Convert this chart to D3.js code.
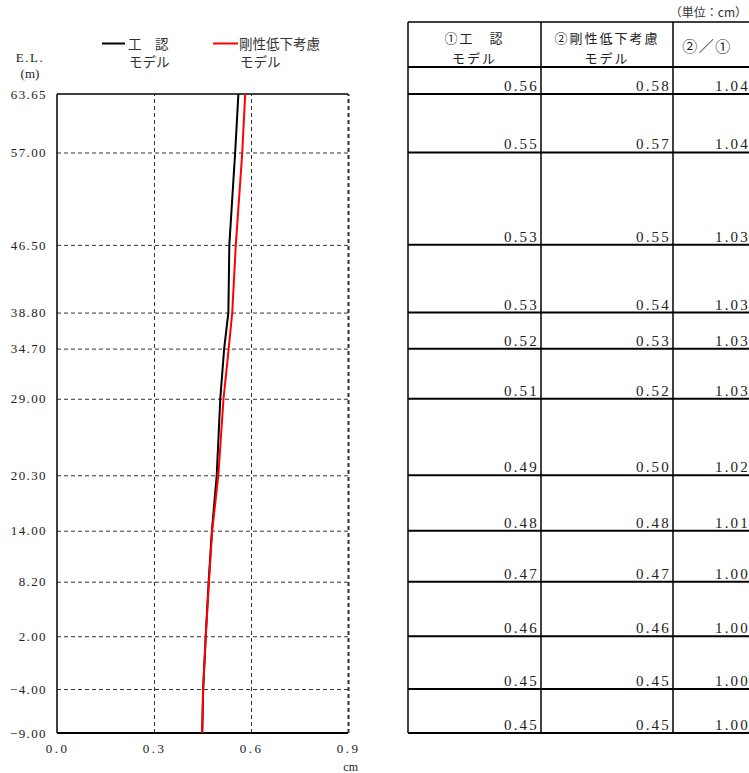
<!DOCTYPE html>
<html><head><meta charset="utf-8">
<script src="https://cdn.jsdelivr.net/npm/d3@7"></script>
<style>
html,body{margin:0;padding:0;background:#fff;}
svg{display:block;}
.num{font-family:"Liberation Serif","DejaVu Serif",serif;}
.jp{font-family:"Noto Sans CJK JP","Noto Sans CJK SC",sans-serif;}
</style></head>
<body>
<svg id="c" width="749" height="773"></svg>
<script>
// ---- data ----
const elevations = [63.65, 57.00, 46.50, 38.80, 34.70, 29.00, 20.30, 14.00, 8.20, 2.00, -4.00, -9.00];
const kouninLine = [0.561, 0.551, 0.533, 0.530, 0.517, 0.505, 0.494, 0.479, 0.469, 0.460, 0.452, 0.449];
const gouseiLine = [0.582, 0.573, 0.553, 0.542, 0.531, 0.515, 0.499, 0.480, 0.470, 0.460, 0.452, 0.449];
const tableKounin = [0.56, 0.55, 0.53, 0.53, 0.52, 0.51, 0.49, 0.48, 0.47, 0.46, 0.45, 0.45];
const tableGousei = [0.58, 0.57, 0.55, 0.54, 0.53, 0.52, 0.50, 0.48, 0.47, 0.46, 0.45, 0.45];
const tableRatio  = [1.04, 1.04, 1.03, 1.03, 1.03, 1.03, 1.02, 1.01, 1.00, 1.00, 1.00, 1.00];
const xTicks = [0.0, 0.3, 0.6, 0.9];
const seriesNames = [["工　認", "モデル"], ["剛性低下考慮", "モデル"]];
const headers = [["①工　認", "モデル"], ["②剛性低下考慮", "モデル"], ["②／①"]];
const unitLabel = "（単位：cm）";

const svg = d3.select("#c");
const L = 57, R = 348, T = 94, B = 733;
const x = d3.scaleLinear().domain([0, 0.9]).range([L, R]);
const y = d3.scaleLinear().domain([-9, 63.65]).range([B, T]);

// grid - horizontal
const gy = svg.append("g").attr("transform", `translate(${L},0)`)
  .call(d3.axisLeft(y).tickValues(elevations.filter(e => e !== 63.65 && e !== -9)).tickSize(-(R - L)).tickFormat(""));
gy.select(".domain").remove();
gy.selectAll("line").attr("stroke", "#333").attr("stroke-dasharray", "4,3").attr("stroke-width", 1);

// grid - vertical
const gx = svg.append("g").attr("transform", `translate(0,${B})`)
  .call(d3.axisBottom(x).tickValues([0.3, 0.6, 0.9]).tickSize(-(B - T)).tickFormat(""));
gx.select(".domain").remove();
gx.selectAll("line").attr("stroke", "#333").attr("stroke-dasharray", "4,3")
  .attr("stroke-width", d => d === 0.9 ? 2 : 1);

// frame
svg.append("line").attr("x1", x(0)).attr("x2", x(0)).attr("y1", y(63.65)).attr("y2", y(-9)).attr("stroke", "#000").attr("stroke-width", 1.5);
svg.append("line").attr("x1", x(0)).attr("x2", x(0.9)).attr("y1", y(63.65)).attr("y2", y(63.65)).attr("stroke", "#000").attr("stroke-width", 1.5);
svg.append("line").attr("x1", x(0)).attr("x2", x(0.9)).attr("y1", y(-9)).attr("y2", y(-9)).attr("stroke", "#000").attr("stroke-width", 2);

// y tick labels
const ya = svg.append("g").attr("transform", `translate(${L},0)`)
  .call(d3.axisLeft(y).tickValues(elevations).tickSize(0).tickPadding(10).tickFormat(d3.format(".2f")));
ya.select(".domain").remove();
ya.selectAll("text").attr("class", "num").attr("font-size", 13).attr("letter-spacing", 1.4).attr("fill", "#222");

// x tick labels
const xa = svg.append("g").attr("transform", `translate(0,${B})`)
  .call(d3.axisBottom(x).tickValues(xTicks).tickSize(0).tickPadding(11).tickFormat(d3.format(".1f")));
xa.select(".domain").remove();
xa.selectAll("text").attr("class", "num").attr("font-size", 13).attr("letter-spacing", 2.5).attr("fill", "#222");

svg.append("text").attr("class", "num").attr("x", 358).attr("y", 771).attr("text-anchor", "end")
  .attr("font-size", 12).attr("fill", "#222").text("cm");
svg.append("text").attr("class", "num").attr("x", 30).attr("y", 62).attr("text-anchor", "middle")
  .attr("font-size", 13).attr("letter-spacing", 1.5).attr("fill", "#222").text("E.L.");
svg.append("text").attr("class", "num").attr("x", 30).attr("y", 78).attr("text-anchor", "middle")
  .attr("font-size", 13).attr("fill", "#222").text("(m)");

// data lines
const line = d3.line().x(d => x(d[0])).y(d => y(d[1]));
svg.append("path").datum(kouninLine.map((v, i) => [v, elevations[i]])).attr("d", line)
  .attr("fill", "none").attr("stroke", "#000").attr("stroke-width", 2);
svg.append("path").datum(gouseiLine.map((v, i) => [v, elevations[i]])).attr("d", line)
  .attr("fill", "none").attr("stroke", "#ff0000").attr("stroke-width", 2);

// legend
const legendItems = [{c: "#000", x1: 102, x2: 125, tx: 128, names: seriesNames[0]},
                     {c: "#ff0000", x1: 213, x2: 238, tx: 239, names: seriesNames[1]}];
legendItems.forEach(it => {
  svg.append("line").attr("x1", it.x1).attr("x2", it.x2).attr("y1", 43.5).attr("y2", 43.5)
    .attr("stroke", it.c).attr("stroke-width", 2);
  svg.append("text").attr("class", "jp").attr("x", it.tx).attr("y", 48.5).attr("font-size", 13.5)
    .attr("fill", "#333").text(it.names[0]);
  svg.append("text").attr("class", "jp").attr("x", it.tx + 1).attr("y", 67).attr("font-size", 13.5)
    .attr("fill", "#333").text(it.names[1]);
});

// ---- table ----
const colX = [408, 541, 673, 752];
const hTop = 22, hBot = 67;
const tg = svg.append("g");
svg.append("text").attr("class", "jp").attr("x", 747).attr("y", 17).attr("text-anchor", "end")
  .attr("font-size", 12).attr("fill", "#333").text(unitLabel);

// header text
headers.forEach((h, i) => {
  const cx = i < 2 ? (colX[i] + colX[i + 1]) / 2 : 707;
  if (h.length === 2) {
    tg.append("text").attr("class", "jp").attr("x", cx).attr("y", 42.5).attr("text-anchor", "middle")
      .attr("font-size", 13).attr("letter-spacing", 2).attr("fill", "#222").text(h[0]);
    tg.append("text").attr("class", "jp").attr("x", cx).attr("y", 62.5).attr("text-anchor", "middle")
      .attr("font-size", 13).attr("letter-spacing", 2).attr("fill", "#222").text(h[1]);
  } else {
    tg.append("text").attr("class", "jp").attr("x", cx).attr("y", 52).attr("text-anchor", "middle")
      .attr("font-size", 15).attr("letter-spacing", 1.5).attr("fill", "#222").text(h[0]);
  }
});

// rows
const rowBottoms = elevations.map(e => y(e));
tableKounin.forEach((v, i) => {
  const yb = rowBottoms[i];
  [[tableKounin[i], colX[1]], [tableGousei[i], colX[2]], [tableRatio[i], colX[3]]].forEach(([val, cr]) => {
    tg.append("text").attr("class", "num").attr("x", cr - 2).attr("y", yb - 3).attr("text-anchor", "end")
      .attr("font-size", 15).attr("letter-spacing", 2.2).attr("fill", "#222").text(d3.format(".2f")(val));
  });
});

// horizontal lines
[hTop, hBot].concat(rowBottoms).forEach(yy => {
  tg.append("line").attr("x1", colX[0]).attr("x2", colX[3]).attr("y1", yy).attr("y2", yy)
    .attr("stroke", "#000").attr("stroke-width", yy === hTop ? 1.5 : 2);
});
// vertical lines
colX.forEach(cx => {
  tg.append("line").attr("x1", cx).attr("x2", cx).attr("y1", hTop).attr("y2", rowBottoms[rowBottoms.length - 1])
    .attr("stroke", "#000").attr("stroke-width", 1.5);
});
</script>
</body></html>
